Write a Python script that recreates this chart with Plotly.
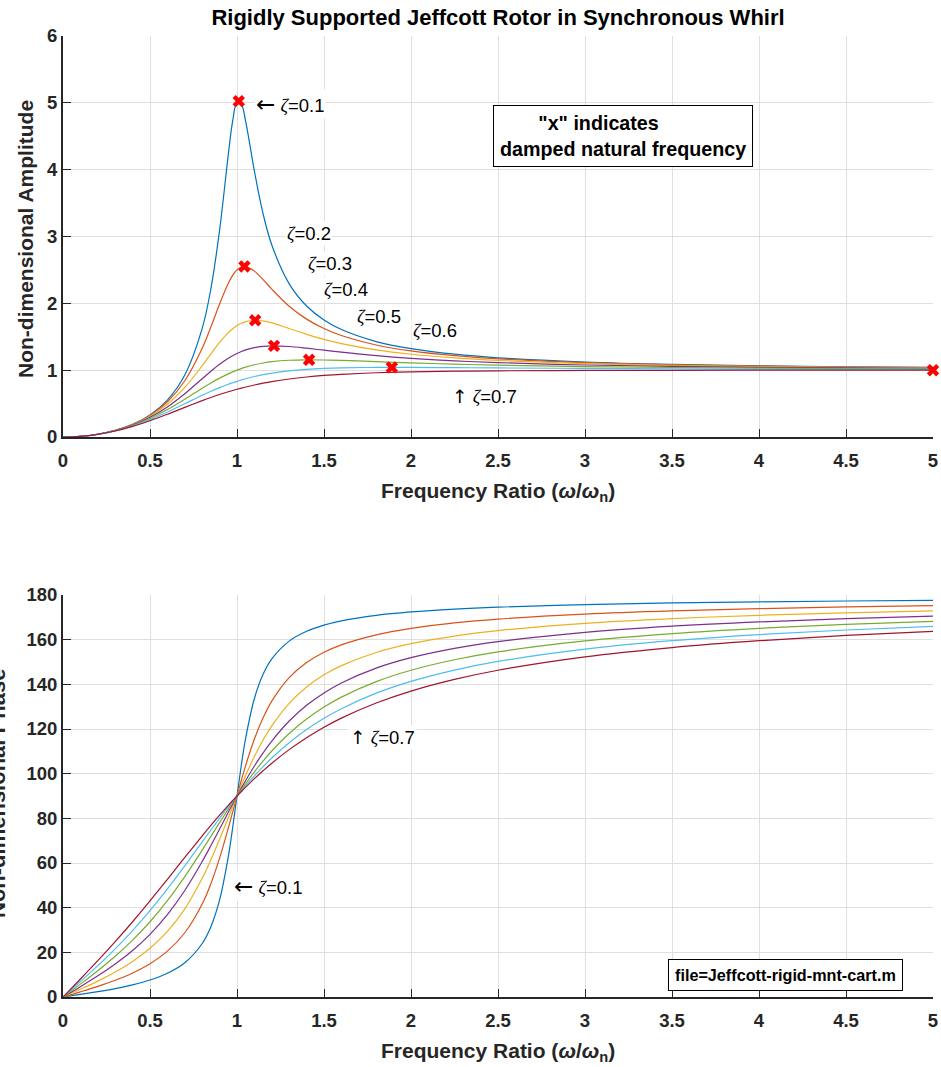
import plotly.graph_objects as go

# Frequency ratio samples (omega / omega_n)
ratio = [0, 0.1, 0.2, 0.3, 0.4, 0.5, 0.6, 0.7, 0.8, 0.85, 0.9, 0.95, 0.975, 1.0, 1.025, 1.05,
         1.1, 1.15, 1.2, 1.3, 1.4, 1.5, 1.6, 1.8, 2.0, 2.25, 2.5, 3.0, 3.5, 4.0, 4.5, 5.0]

zeta_labels = ["0.1", "0.2", "0.3", "0.4", "0.5", "0.6", "0.7"]

# Non-dimensional amplitude, one list per damping ratio
amp_z01 = [0, 0.0101, 0.0416, 0.0987, 0.1896, 0.3304, 0.5529, 0.9265, 1.6246, 2.2201, 3.0948, 4.2260, 4.7259, 5.0000, 4.9755, 4.7180,
           3.9785, 3.3387, 2.8731, 2.2920, 1.9600, 1.7503, 1.6076, 1.4281, 1.3216, 1.2386, 1.1851, 1.1219, 1.0868, 1.0652, 1.0508, 1.0408]
amp_z02 = [0, 0.0101, 0.0415, 0.0981, 0.1871, 0.3221, 0.5267, 0.8422, 1.3287, 1.6463, 1.9899, 2.3005, 2.4182, 2.5000, 2.5432, 2.5502,
           2.4818, 2.3541, 2.2115, 1.9560, 1.7636, 1.6228, 1.5182, 1.3770, 1.2883, 1.2167, 1.1695, 1.1126, 1.0806, 1.0607, 1.0474, 1.0381]
amp_z03 = [0, 0.0101, 0.0413, 0.0970, 0.1832, 0.3095, 0.4903, 0.7417, 1.0667, 1.2444, 1.4150, 1.5607, 1.6192, 1.6667, 1.7026, 1.7273,
           1.7470, 1.7364, 1.7066, 1.6228, 1.5365, 1.4608, 1.3976, 1.3029, 1.2380, 1.1826, 1.1447, 1.0976, 1.0704, 1.0533, 1.0418, 1.0336]
amp_z04 = [0, 0.0101, 0.0411, 0.0956, 0.1780, 0.2941, 0.4500, 0.6469, 0.8716, 0.9837, 1.0878, 1.1778, 1.2163, 1.2500, 1.2788, 1.3028,
           1.3375, 1.3566, 1.3636, 1.3541, 1.3287, 1.2985, 1.2686, 1.2167, 1.1765, 1.1393, 1.1125, 1.0776, 1.0567, 1.0432, 1.0340, 1.0275]
amp_z05 = [0, 0.0101, 0.0408, 0.0939, 0.1720, 0.2774, 0.4104, 0.5658, 0.7295, 0.8080, 0.8806, 0.9450, 0.9738, 1.0000, 1.0238, 1.0450,
           1.0805, 1.1073, 1.1267, 1.1483, 1.1546, 1.1523, 1.1456, 1.1275, 1.1094, 1.0901, 1.0748, 1.0534, 1.0397, 1.0307, 1.0243, 1.0198]
amp_z06 = [0, 0.0100, 0.0404, 0.0920, 0.1654, 0.2603, 0.3737, 0.4986, 0.6242, 0.6835, 0.7387, 0.7888, 0.8118, 0.8333, 0.8535, 0.8721,
           0.9053, 0.9332, 0.9564, 0.9908, 1.0130, 1.0267, 1.0348, 1.0412, 1.0412, 1.0378, 1.0336, 1.0259, 1.0201, 1.0159, 1.0129, 1.0106]
amp_z07 = [0, 0.0100, 0.0400, 0.0898, 0.1585, 0.2437, 0.3409, 0.4435, 0.5440, 0.5913, 0.6357, 0.6768, 0.6960, 0.7143, 0.7317, 0.7482,
           0.7785, 0.8054, 0.8292, 0.8683, 0.8981, 0.9207, 0.9378, 0.9610, 0.9747, 0.9848, 0.9905, 0.9961, 0.9983, 0.9993, 0.9998, 1.0000]

# Non-dimensional phase (degrees), one list per damping ratio
ph_z01 = [0, 1.157, 2.386, 3.772, 5.440, 7.595, 10.620, 15.350, 23.962, 31.492, 43.452, 62.835, 75.791, 90, 103.872, 116.017,
          133.668, 144.504, 151.389, 159.353, 163.740, 166.504, 168.408, 170.870, 172.405, 173.679, 174.560, 175.711, 176.440, 176.947, 177.323, 177.614]
ph_z02 = [0, 2.314, 4.764, 7.512, 10.784, 14.931, 20.556, 28.768, 41.634, 50.780, 62.176, 75.609, 82.785, 90, 97.039, 103.715,
          115.514, 125.034, 132.510, 142.997, 149.743, 154.359, 157.694, 162.181, 165.069, 167.509, 169.216, 171.469, 172.906, 173.911, 174.658, 175.236]
ph_z03 = [0, 3.468, 7.125, 11.189, 15.945, 21.801, 29.358, 39.473, 53.130, 61.448, 70.615, 80.293, 85.176, 90, 94.706, 99.241,
          107.650, 115.063, 121.430, 131.497, 138.814, 144.246, 148.393, 154.259, 158.199, 161.618, 164.055, 167.320, 169.427, 170.910, 172.016, 172.875]
ph_z04 = [0, 4.620, 9.462, 14.775, 20.855, 28.072, 36.870, 47.675, 60.642, 67.800, 75.217, 82.690, 86.378, 90, 93.533, 96.957,
          103.422, 109.318, 114.624, 123.563, 130.601, 136.169, 140.631, 147.265, 151.928, 156.103, 159.145, 163.301, 166.024, 167.957, 169.407, 170.538]
ph_z05 = [0, 5.768, 11.768, 18.246, 25.464, 33.690, 43.153, 53.924, 65.772, 71.920, 78.079, 84.140, 87.101, 90, 92.828, 95.575,
          100.808, 105.665, 110.136, 117.958, 124.439, 129.806, 134.275, 141.215, 146.310, 151.020, 154.536, 159.444, 162.718, 165.069, 166.842, 168.232]
ph_z06 = [0, 6.911, 14.036, 21.584, 29.745, 38.660, 48.366, 58.736, 69.444, 74.780, 80.022, 85.112, 87.583, 90, 92.357, 94.651,
          99.039, 103.154, 106.991, 113.860, 119.745, 124.778, 129.094, 136.042, 141.340, 146.391, 150.255, 155.772, 159.528, 162.255, 164.330, 165.964]
ph_z07 = [0, 8.049, 16.260, 24.775, 33.690, 43.025, 52.696, 62.507, 72.181, 76.874, 81.425, 85.807, 87.928, 90, 92.020, 93.989,
          97.765, 101.327, 104.677, 110.763, 116.095, 120.763, 124.855, 131.634, 136.975, 142.211, 146.310, 152.301, 156.464, 159.528, 161.878, 163.740]

# Damped natural frequency markers ("x")
dnf_ratio = [1.0102, 1.0426, 1.1043, 1.2127, 1.4142, 1.8898, 5.0]
dnf_amp = [5.0252, 2.5516, 1.7471, 1.3639, 1.1547, 1.0417, 1.0]

amps = [amp_z01, amp_z02, amp_z03, amp_z04, amp_z05, amp_z06, amp_z07]
phases = [ph_z01, ph_z02, ph_z03, ph_z04, ph_z05, ph_z06, ph_z07]
colors = ["#0072BD", "#D95319", "#EDB120", "#7E2F8E", "#77AC30", "#4DBEEE", "#A2142F"]

FONT = "Liberation Sans, Arial, Helvetica, sans-serif"
TXT = "#262626"

fig = go.Figure()
for a, c in zip(amps, colors):
    fig.add_trace(go.Scatter(x=ratio, y=a, mode="lines", xaxis="x", yaxis="y",
                             line=dict(color=c, width=1.2, shape="spline", smoothing=1.0),
                             showlegend=False, hoverinfo="skip"))
fig.add_trace(go.Scatter(x=dnf_ratio, y=dnf_amp, mode="markers", xaxis="x", yaxis="y",
                         marker=dict(symbol="x", size=11, color="red", line=dict(width=0)),
                         cliponaxis=False, showlegend=False))
for p, c in zip(phases, colors):
    fig.add_trace(go.Scatter(x=ratio, y=p, mode="lines", xaxis="x2", yaxis="y2",
                             line=dict(color=c, width=1.2, shape="spline", smoothing=1.0),
                             showlegend=False, hoverinfo="skip"))

axis_common = dict(showline=True, linewidth=2, linecolor=TXT, ticks="inside", ticklen=8,
                   tickwidth=1, tickcolor=TXT, showgrid=True, gridcolor="#DFDFDF", gridwidth=1,
                   zeroline=False, automargin=False,
                   tickfont=dict(family=FONT, size=18.5, color=TXT, weight="bold"))

top_dom = [(997 - 437) / 961, 1.0]
bot_dom = [0.0, (997 - 595) / 961]

fig.update_layout(
    width=941, height=1067,
    margin=dict(l=63, r=8, t=36, b=70, autoexpand=False),
    paper_bgcolor="white", plot_bgcolor="white",
    title=dict(text="<b>Rigidly Supported Jeffcott Rotor in Synchronous Whirl</b>",
               x=(498) / 941, xanchor="center", y=1 - 17 / 1067, yanchor="middle",
               font=dict(family=FONT, size=22, color="black")),
    xaxis=dict(domain=[0, 1], anchor="y", range=[0, 5], dtick=0.5, tick0=0,
               ticklabelstandoff=6, **axis_common),
    yaxis=dict(domain=top_dom, anchor="x", range=[0, 6], dtick=1, tick0=0, **axis_common),
    xaxis2=dict(domain=[0, 1], anchor="y2", range=[0, 5], dtick=0.5, tick0=0,
                ticklabelstandoff=6, **axis_common),
    yaxis2=dict(domain=bot_dom, anchor="x2", range=[0, 180], dtick=20, tick0=0, **axis_common),
)

lab_font = dict(family=FONT, size=18.5, color="black")
LARR = '<span style="font-family:DejaVu Sans;font-size:23px">\u2190</span> '
UARR = '<span style="font-family:DejaVu Sans">\u2191</span> '
ZETA = '<span style="font-family:Liberation Serif"><i>\u03b6</i></span>'
ann = []
def zlab(text, x, y, xr="x", yr="y"):
    ann.append(dict(text=text, x=x, y=y, xref=xr, yref=yr, xanchor="left", yanchor="middle",
                    showarrow=False, bgcolor="white", borderpad=1, font=lab_font))

zlab(LARR + ZETA + "=" + zeta_labels[0], 1.095, 4.98)
zlab(ZETA + "=" + zeta_labels[1], 1.276, 3.05)
zlab(ZETA + "=" + zeta_labels[2], 1.397, 2.60)
zlab(ZETA + "=" + zeta_labels[3], 1.489, 2.20)
zlab(ZETA + "=" + zeta_labels[4], 1.678, 1.80)
zlab(ZETA + "=" + zeta_labels[5], 2.0, 1.59)
zlab(UARR + ZETA + "=" + zeta_labels[6], 2.225, 0.61)
zlab(UARR + ZETA + "=" + zeta_labels[6], 1.640, 116, "x2", "y2")
zlab(LARR + ZETA + "=" + zeta_labels[0], 0.970, 49.7, "x2", "y2")

# "x" legend box
ann.append(dict(text="&nbsp;&nbsp;&nbsp;&nbsp;&nbsp;&nbsp;&nbsp;<b>\"x\" indicates</b><br><b>damped natural frequency</b>",
                x=3.220, y=4.51, xref="x", yref="y", xanchor="center", yanchor="middle",
                align="left", showarrow=False, bgcolor="white", bordercolor="black", borderwidth=1,
                borderpad=6, font=dict(family=FONT, size=19.7, color="black")))
# file box
ann.append(dict(text="<b>file=Jeffcott-rigid-mnt-cart.m</b>", x=4.150, y=10.0, xref="x2", yref="y2",
                xanchor="center", yanchor="middle", showarrow=False, bgcolor="white",
                bordercolor="black", borderwidth=1, borderpad=6,
                font=dict(family=FONT, size=16.2, color="black")))

ax_font = dict(family=FONT, size=21, color=TXT)
xtitle = "<b>Frequency Ratio (<i>\u03c9</i>/<i>\u03c9</i><sub>n</sub>)</b>"
ann.append(dict(text=xtitle, x=0.5, y=(997 - 492) / 961, xref="paper", yref="paper",
                xanchor="center", yanchor="middle", showarrow=False, font=ax_font))
ann.append(dict(text=xtitle, x=0.5, y=(997 - 1052) / 961, xref="paper", yref="paper",
                xanchor="center", yanchor="middle", showarrow=False, font=ax_font))
ann.append(dict(text="<b>Non-dimensional Amplitude</b>", x=(25 - 63) / 870, y=(997 - 239) / 961,
                xref="paper", yref="paper", xanchor="center", yanchor="middle", textangle=-90,
                showarrow=False, font=ax_font))
ann.append(dict(text="<b>Non-dimensional Phase</b>", x=(-3 - 63) / 870, y=(997 - 794) / 961,
                xref="paper", yref="paper", xanchor="center", yanchor="middle", textangle=-90,
                showarrow=False, font=dict(family=FONT, size=22, color=TXT)))

fig.update_layout(annotations=ann)
fig.write_html("out.html")
